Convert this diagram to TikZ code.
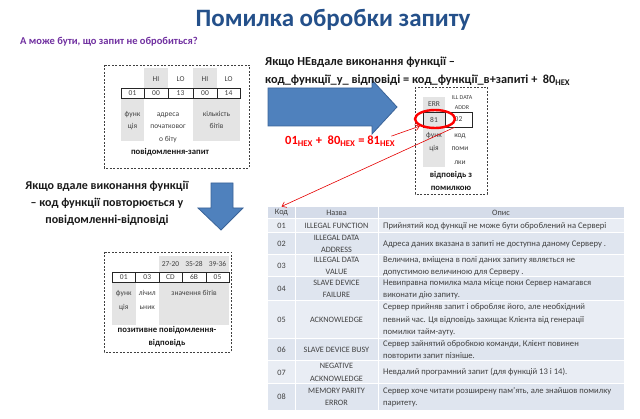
\documentclass[tikz,border=0pt]{standalone}
\usepackage{fontspec}
\setmainfont{Carlito}
\usetikzlibrary{arrows.meta,shapes.geometric}

\definecolor{titleblue}{HTML}{24508A}
\definecolor{askpurple}{HTML}{7030A0}
\definecolor{arrowfill}{HTML}{4F81BD}
\definecolor{arrowedge}{HTML}{3A6398}
\definecolor{fieldgray}{HTML}{E4E4E4}
\definecolor{txtgray}{HTML}{404040}
\definecolor{hdrrow}{HTML}{D5DCE9}
\definecolor{rowlight}{HTML}{E9EDF4}
\definecolor{rowdark}{HTML}{DFE5EF}

\newcommand{\fsz}[2]{\fontsize{#1}{#2}\selectfont}
\newcommand{\lnstrut}{\rule{0pt}{6.4pt}}
\newcommand{\capstrut}{\rule{0pt}{7pt}}
\newcommand{\hdstrut}{\rule{0pt}{9.5pt}}

\begin{document}
\begin{tikzpicture}[x=1pt,y=-1pt,
  field/.style={draw=black!85, line width=0.5pt, inner sep=0pt, font=\fsz{7.5}{8}, text=txtgray},
  small/.style={inner sep=0pt, align=center, font=\fsz{7.5}{13}, text=txtgray},
  tiny/.style={inner sep=0pt, align=center, font=\fsz{6}{10}, text=txtgray},
  caption/.style={inner sep=0pt, align=center, font=\bfseries\fsz{8.7}{13}, text=black!90},
  frame/.style={draw=black!75, line width=0.5pt, dash pattern=on 2pt off 1.5pt},
  heading/.style={inner sep=0pt, font=\bfseries\fsz{12.3}{16}, text=black!90},
  bluearrow/.style={fill=arrowfill, draw=arrowedge, line width=0.8pt, line join=miter},
  hint/.style={draw=red!90!black, line width=0.6pt, -{Straight Barb[length=4pt,width=6pt]}},
  tcell/.style={inner sep=0pt, align=center, font=\fsz{8.2}{12.5}, text=txtgray},
  tdesc/.style={inner sep=0pt, align=left, font=\fsz{8.6}{12.5}, text=txtgray, anchor=west},
]
\useasboundingbox (0,0) rectangle (640,419);

% title and question
\node[font=\bfseries\fsz{25}{28}, text=titleblue, anchor=base, inner sep=0pt] (title) at (333,27) {Помилка обробки запиту};
\node[font=\bfseries\fsz{10.5}{12}, text=askpurple, anchor=base west, inner sep=0pt] (ask) at (20,45) {А може бути, що запит не обробиться?};

% ---- request frame
\draw[frame] (104,65) rectangle (249,168);
\fill[fieldgray] (144,68) rectangle (168,88);
\fill[fieldgray] (193,68) rectangle (217,88);
\fill[fieldgray] (121,98.5) rectangle (144,141);
\fill[fieldgray] (193,98.5) rectangle (240,141);
\node[small] (qh2) at (156,79) {HI};
\node[small] (qh3) at (180.5,79) {LO};
\node[small] (qh4) at (205,79) {HI};
\node[small] (qh5) at (228.5,79) {LO};
\node[field, minimum width=23pt, minimum height=10.5pt] (q1) at (132.5,93.25) {01};
\node[field, minimum width=24pt, minimum height=10.5pt] (q2) at (156,93.25) {00};
\node[field, minimum width=25pt, minimum height=10.5pt] (q3) at (180.5,93.25) {13};
\node[field, minimum width=24pt, minimum height=10.5pt] (q4) at (205,93.25) {00};
\node[field, minimum width=23pt, minimum height=10.5pt] (q5) at (228.5,93.25) {14};
\node[small, anchor=north, font=\fsz{7.5}{12.5}] (qf) at (132.5,109.5) {\lnstrut функ\\ція};
\node[small, anchor=north, font=\fsz{7.5}{12.5}] (qa) at (168,109.5) {\lnstrut адреса\\початковог\\о біту};
\node[small, anchor=north, font=\fsz{7.5}{12.5}] (qn) at (216.5,109.5) {\lnstrut кількість\\бітів};
\node[caption, anchor=base] (qcap) at (170,155) {повідомлення-запит};

% ---- arrow towards the error reply
\draw[bluearrow] (268,88) -- (372,88) -- (372,80) -- (397,107) -- (372,134) -- (372,126) -- (268,126) -- cycle;
\node[heading, anchor=base west] (failA) at (265,66) {Якщо НЕвдале виконання функції –};
\node[heading, anchor=base west] (failB) at (265,84) {код\_функції\_у\_ відповіді = код\_функції\_в+запиті + \ 80\textsubscript{HEX}};
\node[font=\bfseries\fsz{12.5}{15}, text=red, anchor=base west, inner sep=0pt] (fx) at (285,145) {01\textsubscript{HEX} + \ 80\textsubscript{HEX} = 81\textsubscript{HEX}};

% ---- error reply frame
\draw[frame] (415,87) rectangle (487,194);
\fill[fieldgray] (423,97) rectangle (445,167);
\node[small] (eh1) at (434,104) {ERR};
\node[tiny] (eh2) at (462,103) {ILL DATA\\ADDR};
\node[field, minimum width=22pt, minimum height=15pt] (e1) at (434,119.5) {81};
\node[field, minimum width=27pt, minimum height=15pt] (e2) at (458.5,119.5) {02};
\node[draw=red, line width=2.4pt, ellipse, minimum width=40pt, minimum height=18pt, inner sep=0pt] (ell) at (435,119) {};
\node[small, anchor=north, font=\fsz{7.5}{13.5}] (ef) at (434,130.5) {\lnstrut функ\\ція};
\node[small, anchor=north, font=\fsz{7.5}{13.5}] (ec) at (460,130.5) {\lnstrut код\\поми\\лки};
\node[caption, anchor=north] (ecap) at (451,170.1) {\capstrut відповідь з\\помилкою};

% ---- successful reply
\node[heading, align=center, anchor=north, font=\bfseries\fsz{12}{17}] (okText) at (107,180) {\hdstrut Якщо вдале виконання функції\\– код функції повторюється у\\повідомленні-відповіді};
\draw[bluearrow] (211,183) -- (233,183) -- (233,208) -- (243,208) -- (221,230) -- (198,208) -- (211,208) -- cycle;

\draw[frame] (104,252) rectangle (231,352);
\fill[fieldgray] (159,256) rectangle (229,272);
\fill[fieldgray] (112,282) rectangle (135.5,325);
\fill[fieldgray] (159,282) rectangle (229,325);
\node[small] (ph3) at (170.5,264) {27-20};
\node[small] (ph4) at (194,264) {35-28};
\node[small] (ph5) at (217.5,264) {39-36};
\node[field, minimum width=23.5pt, minimum height=10pt] (p1) at (123.75,277) {01};
\node[field, minimum width=23.5pt, minimum height=10pt] (p2) at (147.25,277) {03};
\node[field, minimum width=23.5pt, minimum height=10pt] (p3) at (170.5,277) {CD};
\node[field, minimum width=23.5pt, minimum height=10pt] (p4) at (194,277) {6B};
\node[field, minimum width=23.5pt, minimum height=10pt] (p5) at (217.5,277) {05};
\node[small, anchor=north, font=\fsz{7.5}{14}] (pf) at (123.75,288.5) {\lnstrut функ\\ція};
\node[small, anchor=north, font=\fsz{7.5}{14}] (pc) at (147.25,288.5) {\lnstrut лічил\\ьник};
\node[small, anchor=north, font=\fsz{7.5}{14}] (pv) at (194,288.5) {\lnstrut значення бітів};
\node[caption, anchor=north] (pcap) at (167,325.1) {\capstrut позитивне повідомлення-\\відповідь};

% ---- exception code table
\foreach \t/\b/\fc in {207/219/hdrrow,219/233/rowlight,233/255/rowdark,255/277/rowlight,277/301/rowdark,301/339/rowlight,339/361/rowdark,361/384/rowlight,384/410/rowdark}
  \fill[\fc] (268,\t) rectangle (624,\b);
\foreach \yy in {219,233,255,277,301,339,361,384}
  \draw[white, line width=1pt] (268,\yy) -- (624,\yy);
\foreach \xx in {295,378}
  \draw[white, line width=1pt] (\xx,207) -- (\xx,410);
\node[tcell] (hK) at (281.5,213) {Код};
\node[tcell] (hN) at (336.5,213) {Назва};
\node[tcell] (hO) at (501,213) {Опис};
\foreach \t/\b/\c/\n/\d in {
  219/233/01/{ILLEGAL FUNCTION}/{Прийнятий код функції не може бути оброблений на Сервері},
  233/255/02/{ILLEGAL DATA\\ADDRESS}/{Адреса даних вказана в запиті не доступна даному Серверу .},
  255/277/03/{ILLEGAL DATA\\VALUE}/{Величина, вміщена в полі даних запиту являється не\\допустимою величиною для Серверу .},
  277/301/04/{SLAVE DEVICE\\FAILURE}/{Невиправна помилка мала місце поки Сервер намагався\\виконати дію запиту.},
  301/339/05/{ACKNOWLEDGE}/{Сервер прийняв запит і обробляє його, але необхідний\\певний час. Ця відповідь захищає Клієнта від генерації\\помилки тайм-ауту.},
  339/361/06/{SLAVE DEVICE BUSY}/{Сервер зайнятий обробкою команди, Клієнт повинен\\повторити запит пізніше.},
  361/384/07/{NEGATIVE\\ACKNOWLEDGE}/{Невдалий програмний запит (для функцій 13 і 14).},
  384/410/08/{MEMORY PARITY\\ERROR}/{Сервер хоче читати розширену пам'ять, але знайшов помилку\\паритету.}}
{
  \node[tcell] (k\c) at (281.5,{(\t+\b)/2}) {\c};
  \node[tcell] (n\c) at (336.5,{(\t+\b)/2}) {\n};
  \node[tdesc] (d\c) at (383,{(\t+\b)/2}) {\d};
}

% ---- red pointers
\draw[hint] ([xshift=-4pt]fx.north east) -- (ell.205);
\draw[hint] ([xshift=10pt]e2.south west) -- ([yshift=3pt]hK.north);
\end{tikzpicture}
\end{document}
